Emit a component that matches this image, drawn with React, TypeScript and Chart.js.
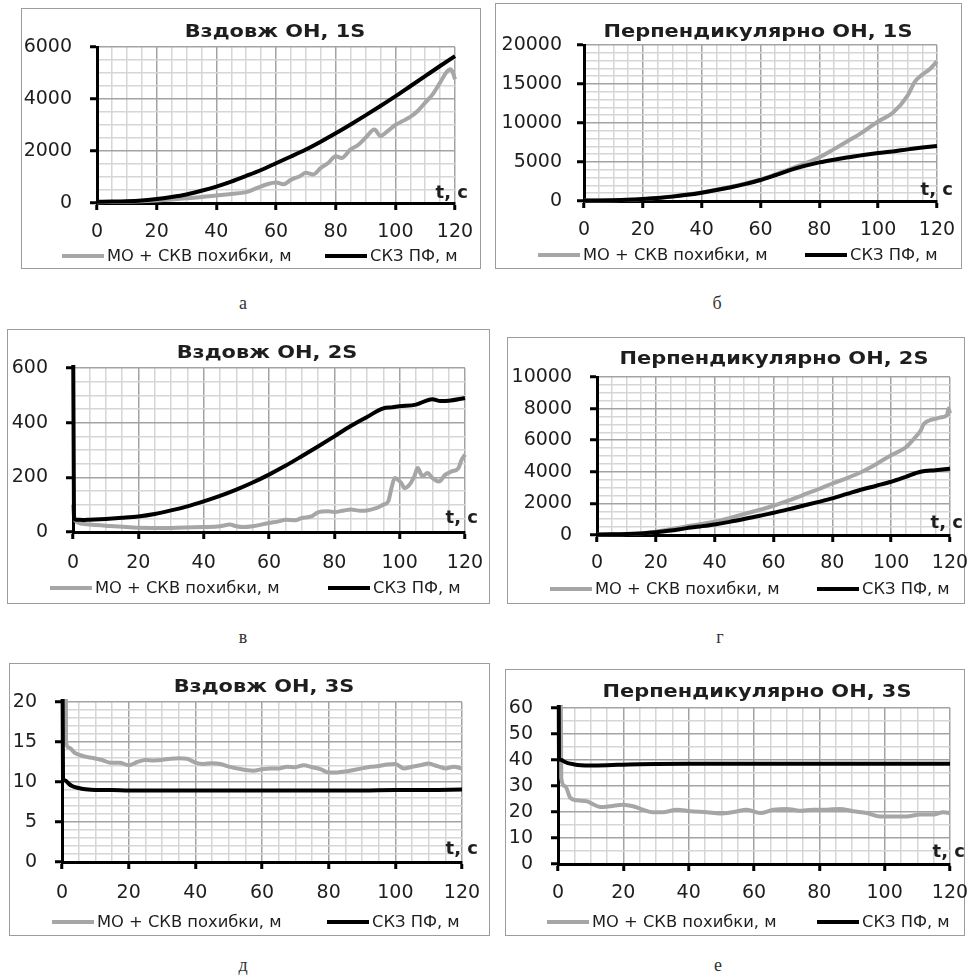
import React, { useEffect, useRef } from 'react';
import { Chart, registerables } from 'chart.js';

Chart.register(...registerables);

// ---------------- data ----------------
const LEGEND_GRAY = 'МО + СКВ похибки, м';
const LEGEND_BLACK = 'СКЗ ПФ, м';
const AXIS_LABEL = 't, с';
const X_LABELS = [0, 20, 40, 60, 80, 100, 120];

// а) Вздовж ОН, 1S
const Y_LABELS_A = [0, 2000, 4000, 6000];
const T_A = [0, 5, 10, 15, 20, 25, 30, 35, 40, 45, 50, 55, 60, 65, 70, 75, 80, 85, 90, 95, 100, 105, 110, 115, 120];
const A_BLACK = [50, 55, 70, 100, 150, 230, 330, 470, 630, 820, 1040, 1270, 1530, 1790, 2060, 2360, 2680, 3020, 3370, 3730, 4100, 4490, 4880, 5270, 5650];
const T_A_GRAY = [0, 10, 20, 30, 40, 45, 50, 53.5, 57, 60, 62.5, 65, 68, 70, 72.5, 75, 77.5, 80, 82, 85, 87.5, 90, 93, 95, 97.5, 100, 102.5, 105, 107.5, 110, 112.5, 115, 117, 118.5, 119.3, 120];
const A_GRAY = [30, 50, 100, 180, 290, 350, 420, 570, 720, 790, 720, 890, 1030, 1160, 1100, 1350, 1540, 1800, 1730, 2060, 2230, 2510, 2830, 2580, 2770, 3000, 3150, 3310, 3540, 3860, 4180, 4630, 5010, 5140, 5010, 4760];

// б) Перпендикулярно ОН, 1S
const Y_LABELS_B = [0, 5000, 10000, 15000, 20000];
const T_B = [0, 5, 10, 15, 20, 25, 30, 35, 40, 45, 50, 55, 60, 65, 70, 75, 80, 85, 90, 95, 100, 105, 110, 115, 120];
const B_BLACK = [50, 60, 90, 150, 250, 390, 560, 790, 1070, 1400, 1770, 2200, 2690, 3300, 3950, 4500, 4950, 5300, 5600, 5900, 6150, 6350, 6620, 6850, 7050];
const T_B_GRAY = [0, 5, 10, 15, 20, 25, 30, 35, 40, 45, 50, 55, 60, 65, 70, 75, 80, 85, 90, 95, 100, 105, 110, 112.5, 115, 117.5, 120];
const B_GRAY = [50, 60, 90, 150, 250, 400, 580, 820, 1100, 1440, 1820, 2260, 2760, 3380, 4100, 4800, 5600, 6650, 7750, 8900, 10200, 11300, 13500, 15300, 16200, 16900, 17900];

// в) Вздовж ОН, 2S
const Y_LABELS_V = [0, 200, 400, 600];
const T_V = [0, 0.3, 1, 3, 5, 10, 15, 20, 25, 30, 35, 40, 45, 50, 55, 60, 65, 70, 75, 80, 85, 90, 95, 97.5, 100, 105, 110, 112.5, 115, 120];
const V_BLACK = [900, 48, 45, 44, 45, 48, 52, 57, 66, 79, 94, 112, 132, 155, 181, 210, 242, 277, 313, 350, 388, 421, 452, 456, 460, 466, 486, 479, 480, 490];
const T_V_GRAY = [0, 0.3, 1, 3, 10, 20, 30, 40, 45, 48, 50, 52, 55, 60, 63, 65, 68, 70, 73, 75, 78, 80, 83, 85, 88, 90, 93, 95, 96.5, 97.5, 98.5, 99.5, 100.5, 101.5, 103, 104.5, 105.5, 107, 108.5, 110, 112, 114, 116, 118, 119, 120];
const V_GRAY = [100, 60, 38, 30, 23, 16, 15, 18, 21, 27, 21, 18, 21, 33, 39, 45, 43, 51, 57, 72, 76, 73, 79, 82, 78, 79, 88, 100, 112, 161, 198, 191, 179, 161, 173, 204, 234, 204, 216, 198, 185, 210, 222, 234, 265, 283];

// г) Перпендикулярно ОН, 2S
const Y_LABELS_G = [0, 2000, 4000, 6000, 8000, 10000];
const T_G = [0, 5, 10, 15, 20, 25, 30, 35, 40, 45, 50, 55, 60, 65, 70, 75, 80, 85, 90, 95, 100, 105, 110, 115, 120];
const G_BLACK = [30, 40, 60, 100, 170, 280, 420, 540, 670, 830, 1010, 1200, 1410, 1620, 1850, 2080, 2320, 2600, 2880, 3120, 3370, 3680, 4000, 4100, 4200];
const T_G_GRAY = [0, 5, 10, 15, 20, 25, 30, 35, 40, 45, 50, 55, 60, 65, 70, 75, 80, 85, 90, 95, 100, 105, 108, 110, 111, 113, 115, 117, 119, 119.5, 120];
const G_GRAY = [30, 40, 60, 110, 210, 360, 530, 680, 840, 1070, 1330, 1580, 1850, 2170, 2530, 2880, 3260, 3600, 4000, 4500, 5050, 5550, 6150, 6600, 7000, 7250, 7350, 7450, 7600, 8000, 7700];

// д) Вздовж ОН, 3S
const Y_LABELS_D = [0, 5, 10, 15, 20];
const T_D = [0, 0.3, 1, 2, 3, 5, 7, 10, 15, 20, 30, 40, 50, 60, 70, 80, 90, 100, 110, 120];
const D_BLACK = [40, 10.4, 10.2, 9.8, 9.5, 9.25, 9.1, 9.0, 9.0, 8.95, 8.95, 8.95, 8.95, 8.95, 8.95, 8.95, 8.95, 9.0, 9.0, 9.05];
const T_D_GRAY = [0, 1.2, 2, 4, 6.7, 9.3, 12, 14.6, 17.3, 20, 22.6, 25, 27.5, 30, 32.5, 35, 37.5, 40, 42.5, 45, 47.5, 50, 52.5, 55, 57.5, 60, 62.5, 65, 67.5, 70, 72.5, 75, 77.5, 80, 82.5, 85, 87.5, 90, 92.5, 95, 97.5, 100, 102.5, 105, 107.5, 110, 112.5, 115, 117.5, 120];
const D_GRAY = [200, 15.0, 14.3, 13.6, 13.2, 13.0, 12.75, 12.4, 12.4, 12.1, 12.5, 12.75, 12.7, 12.76, 12.9, 12.97, 12.9, 12.43, 12.26, 12.34, 12.26, 11.92, 11.7, 11.5, 11.4, 11.6, 11.7, 11.7, 11.9, 11.85, 12.1, 11.85, 11.6, 11.2, 11.2, 11.3, 11.5, 11.7, 11.9, 12.0, 12.2, 12.26, 11.7, 11.9, 12.1, 12.3, 12.0, 11.7, 11.9, 11.7];

// е) Перпендикулярно ОН, 3S
const Y_LABELS_E = [0, 10, 20, 30, 40, 50, 60];
const T_E = [0, 0.3, 1, 2, 3, 5, 7, 10, 15, 20, 25, 30, 40, 50, 60, 70, 80, 90, 100, 110, 120];
const E_BLACK = [150, 40.5, 40.0, 39.3, 38.8, 38.3, 38.0, 37.9, 38.0, 38.2, 38.4, 38.5, 38.6, 38.6, 38.6, 38.6, 38.6, 38.6, 38.6, 38.6, 38.6];
const T_E_GRAY = [0, 1, 2.2, 3.8, 5.8, 8.9, 11, 13, 16, 20, 23, 26, 29, 32, 36.4, 40.5, 45.6, 49.6, 53.7, 57.8, 61.9, 66, 70, 74, 78, 82.3, 86.3, 90.4, 94.5, 98.6, 102.7, 106.7, 110.8, 114.9, 117.9, 120];
const E_GRAY = [300, 33, 29.9, 25.4, 24.5, 24.1, 22.8, 21.9, 22.2, 22.8, 22.2, 20.9, 19.9, 19.9, 20.9, 20.3, 19.9, 19.4, 20.0, 20.9, 19.6, 20.9, 21.2, 20.5, 20.9, 20.9, 21.2, 20.3, 19.6, 18.3, 18.3, 18.3, 19.0, 19.0, 19.9, 19.6];

// ---------------- styles / layout ----------------
const FONT = "'DejaVu Sans', sans-serif";
const GRAY = '#a6a6a6';
const BLACK = '#000000';
const TXT = '#1e1e1e';
const MAJOR = '#a3a3a3';
const MINOR = '#d6d6d6';
const EXTRA = 24;
const XH = 40;

type PanelCfg = {
  title: string;
  box: number[]; // L, T, W, H (page px)
  plot: number[]; // l, t, r, b (page px)
  yMax: number;
  yMinor: number;
  yLabels: number[];
  gray: number[][];
  black: number[][];
  titleXY: number[];
  tcXY: number[];
  legendX: number[];
  legendY: number;
  xOff: number;
  yGap: number;
  caption: string;
  captionXY: number[];
};

const PANELS: PanelCfg[] = [
  {
    title: 'Вздовж ОН, 1S', box: [21, 8, 460, 261], plot: [97, 47, 455, 203],
    yMax: 6000, yMinor: 500, yLabels: Y_LABELS_A, gray: [T_A_GRAY, A_GRAY], black: [T_A, A_BLACK],
    titleXY: [275, 32], tcXY: [468, 193], legendX: [62, 325], legendY: 256, xOff: 29, yGap: 25,
    caption: 'а', captionXY: [243, 303],
  },
  {
    title: 'Перпендикулярно ОН, 1S', box: [495, 3, 467, 266], plot: [584, 45, 937, 201],
    yMax: 20000, yMinor: 1000, yLabels: Y_LABELS_B, gray: [T_B_GRAY, B_GRAY], black: [T_B, B_BLACK],
    titleXY: [758, 32], tcXY: [953, 190], legendX: [538, 805], legendY: 255, xOff: 29, yGap: 22,
    caption: 'б', captionXY: [717, 303],
  },
  {
    title: 'Вздовж ОН, 2S', box: [7, 329, 483, 275], plot: [73, 368, 465, 532],
    yMax: 600, yMinor: 50, yLabels: Y_LABELS_V, gray: [T_V_GRAY, V_GRAY], black: [T_V, V_BLACK],
    titleXY: [267, 353], tcXY: [478, 518], legendX: [50, 328], legendY: 588, xOff: 31, yGap: 25,
    caption: 'в', captionXY: [243, 637],
  },
  {
    title: 'Перпендикулярно ОН, 2S', box: [507, 337, 458, 267], plot: [597, 377, 950, 535],
    yMax: 10000, yMinor: 500, yLabels: Y_LABELS_G, gray: [T_G_GRAY, G_GRAY], black: [T_G, G_BLACK],
    titleXY: [774, 359], tcXY: [963, 523], legendX: [550, 817], legendY: 589, xOff: 28, yGap: 25,
    caption: 'г', captionXY: [720, 637],
  },
  {
    title: 'Вздовж ОН, 3S', box: [9, 663, 481, 273], plot: [62, 702, 462, 862],
    yMax: 20, yMinor: 1, yLabels: Y_LABELS_D, gray: [T_D_GRAY, D_GRAY], black: [T_D, D_BLACK],
    titleXY: [264, 687], tcXY: [478, 849], legendX: [52, 327], legendY: 922, xOff: 31, yGap: 25,
    caption: 'д', captionXY: [243, 965],
  },
  {
    title: 'Перпендикулярно ОН, 3S', box: [505, 669, 460, 267], plot: [558, 708, 950, 864],
    yMax: 60, yMinor: 5, yLabels: Y_LABELS_E, gray: [T_E_GRAY, E_GRAY], black: [T_E, E_BLACK],
    titleXY: [757, 692], tcXY: [965, 852], legendX: [547, 817], legendY: 922, xOff: 29, yGap: 25,
    caption: 'е', captionXY: [718, 965],
  },
];

function pts(s: number[][]) {
  const [t, v] = s;
  return t.map((x, i) => ({ x, y: v[i] }));
}

function steps(max: number, step: number) {
  const out: { value: number }[] = [];
  const n = Math.round(max / step);
  for (let i = 0; i <= n; i++) out.push({ value: +(i * step).toFixed(6) });
  return out;
}

function stretchedText(
  ctx: CanvasRenderingContext2D, text: string, x: number, y: number, sx: number, align: 'left' | 'center' | 'right',
) {
  ctx.save();
  ctx.translate(x, y);
  ctx.scale(sx, 1);
  ctx.textAlign = align;
  ctx.fillText(text, 0, 0);
  ctx.restore();
}

const annotPlugin = {
  id: 'annot',
  afterDraw(chart: any, _args: any, o: any) {
    const ctx = chart.ctx as CanvasRenderingContext2D;
    ctx.save();
    ctx.fillStyle = TXT;
    ctx.textBaseline = 'middle';
    ctx.font = `bold 18.5px ${FONT}`;
    stretchedText(ctx, o.title, o.titleX, o.titleY, 1.13, 'center');
    ctx.font = `bold 18px ${FONT}`;
    stretchedText(ctx, AXIS_LABEL, o.tcX, o.tcY, 1.0, 'right');
    ctx.font = `16px ${FONT}`;
    const ds = chart.data.datasets;
    [ds[0], ds[1]].forEach((d: any, i: number) => {
      const x = o.legendX[i];
      ctx.strokeStyle = d.borderColor;
      ctx.lineWidth = 4;
      ctx.lineCap = 'butt';
      ctx.beginPath();
      ctx.moveTo(x, o.legendY);
      ctx.lineTo(x + 42, o.legendY);
      ctx.stroke();
      ctx.fillStyle = TXT;
      stretchedText(ctx, d.label, x + 45, o.legendY + 1, 1.02, 'left');
    });
    ctx.restore();
  },
};

function Panel({ cfg }: { cfg: PanelCfg }) {
  const ref = useRef<HTMLCanvasElement>(null);
  const [L, T, W, H] = cfg.box;
  const [pl, pt, pr, pb] = cfg.plot;
  const CW = W + EXTRA;

  useEffect(() => {
    if (!ref.current) return;
    const tickFont = { family: FONT, size: 19, lineHeight: 1.2 };
    const isX = (v: number) => X_LABELS.includes(v);
    const isY = (v: number) => cfg.yLabels.includes(v);
    const chart = new Chart(ref.current, {
      type: 'line',
      data: {
        datasets: [
          {
            label: LEGEND_GRAY, data: pts(cfg.gray), borderColor: GRAY, borderWidth: 4,
            pointRadius: 0, cubicInterpolationMode: 'monotone', order: 1, clip: 3, fill: false,
          },
          {
            label: LEGEND_BLACK, data: pts(cfg.black), borderColor: BLACK, borderWidth: 4,
            pointRadius: 0, cubicInterpolationMode: 'monotone', order: 0, clip: 3, fill: false,
          },
        ],
      },
      options: {
        responsive: false,
        animation: false,
        events: [],
        layout: { padding: { left: 0, top: pt - T, right: L + CW - pr, bottom: T + H - pb - XH } },
        plugins: {
          legend: { display: false },
          tooltip: { enabled: false },
          annot: {
            title: cfg.title,
            titleX: cfg.titleXY[0] - L, titleY: cfg.titleXY[1] - T,
            tcX: cfg.tcXY[0] - L, tcY: cfg.tcXY[1] - T,
            legendX: [cfg.legendX[0] - L, cfg.legendX[1] - L], legendY: cfg.legendY - T,
          },
        } as any,
        scales: {
          x: {
            type: 'linear', min: 0, max: 120,
            afterBuildTicks: (s: any) => { s.ticks = steps(120, 5); },
            afterFit: (s: any) => { s.height = XH; },
            ticks: {
              autoSkip: false, maxRotation: 0, minRotation: 0, font: tickFont, color: TXT,
              padding: cfg.xOff - 7 - 11.4,
              callback: (v: any) => (isX(Number(v)) ? String(v) : ''),
            },
            grid: {
              color: (c: any) => (c.tick && isX(c.tick.value) ? MAJOR : MINOR),
              lineWidth: 1.5, tickLength: 7, tickWidth: 3,
              tickColor: (c: any) => (c.tick && isX(c.tick.value) ? '#000' : 'rgba(0,0,0,0)'),
            },
            border: { color: '#000', width: 3 },
          },
          y: {
            type: 'linear', min: 0, max: cfg.yMax,
            afterBuildTicks: (s: any) => { s.ticks = steps(cfg.yMax, cfg.yMinor); },
            afterFit: (s: any) => { s.width = pl - L; },
            ticks: {
              autoSkip: false, font: tickFont, color: TXT, padding: cfg.yGap - 7,
              callback: (v: any) => (isY(Number(v)) ? String(v) : ''),
            },
            grid: {
              color: (c: any) => (c.tick && isY(c.tick.value) ? MAJOR : MINOR),
              lineWidth: 1.5, tickLength: 7, tickWidth: 3,
              tickColor: (c: any) => (c.tick && isY(c.tick.value) ? '#000' : 'rgba(0,0,0,0)'),
            },
            border: { color: '#000', width: 3 },
          },
        },
      } as any,
      plugins: [annotPlugin as any],
    });
    return () => chart.destroy();
  }, []);

  return (
    <>
      <div
        style={{
          position: 'absolute', left: L, top: T, width: W, height: H,
          border: '1px solid #9c9c9c', boxSizing: 'border-box', background: '#fff',
        }}
      />
      <canvas
        ref={ref}
        width={CW}
        height={H}
        style={{ position: 'absolute', left: L, top: T, width: CW, height: H }}
      />
      <div
        style={{
          position: 'absolute', left: cfg.captionXY[0], top: cfg.captionXY[1],
          transform: 'translate(-50%, -50%)', fontFamily: "'Liberation Serif', serif",
          fontSize: 18, color: '#333', lineHeight: 1,
        }}
      >
        {cfg.caption}
      </div>
    </>
  );
}

export default function App() {
  return (
    <div
      style={{
        position: 'fixed', left: 0, top: 0, width: 971, height: 979,
        overflow: 'hidden', background: '#fff',
      }}
    >
      {PANELS.map((p, i) => (
        <Panel key={i} cfg={p} />
      ))}
    </div>
  );
}
